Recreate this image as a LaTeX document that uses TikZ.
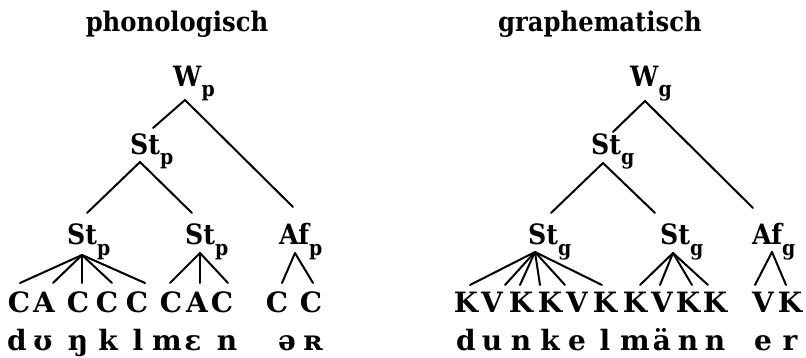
\documentclass[tikz,border=0pt]{standalone}
\usepackage{fontspec}
\setmainfont{DejaVu Serif Condensed}[BoldFont={DejaVu Serif Condensed Bold}]
\newfontfamily\widefont{DejaVu Serif}[BoldFont={DejaVu Serif Bold}]
\newcommand\lsub[1]{\raisebox{-10pt}{\fontsize{21}{21}\selectfont #1}}
\tikzset{
  lbl/.style={anchor=base west, inner sep=0pt, font=\fontsize{28}{28}\selectfont\bfseries},
  ltr/.style={anchor=base, inner sep=0pt, font=\fontsize{28}{28}\selectfont\widefont\bfseries},
  ttl/.style={anchor=base, inner sep=0pt, font=\fontsize{27}{27}\selectfont\bfseries},
  edge/.style={line width=2pt, line cap=round}
}
\begin{document}
\begin{tikzpicture}[x=1pt,y=-1pt]
\useasboundingbox (0,0) rectangle (806,358);
% titles
\node[ttl] (t1) at (177,32) {phonologisch};
\node[ttl] (t2) at (600,32) {graphematisch};
% left tree labels
\node[lbl] (Wp) at (173,87) {W\lsub{p}};
\node[lbl] (Stp) at (130,155) {St\lsub{p}};
\node[lbl] (Stp1) at (67,245) {St\lsub{p}};
\node[lbl] (Stp2) at (185,245) {St\lsub{p}};
\node[lbl] (Afp) at (279,245) {Af\lsub{p}};
% right tree labels
\node[lbl] (Wg) at (630,87) {W\lsub{g}};
\node[lbl] (Stg) at (591,155) {St\lsub{g}};
\node[lbl] (Stg1) at (528,245) {St\lsub{g}};
\node[lbl] (Stg2) at (660,245) {St\lsub{g}};
\node[lbl] (Afg) at (752,245) {Af\lsub{g}};
% CV row left
\foreach \n/\x/\t in {1/19/C,2/44/A,3/78/C,4/107/C,5/137/C,6/171/C,7/197/A,8/222/C,9/277/C,10/311/C}
  \node[ltr] (cv\n) at (\x,312) {\t};
\foreach \n/\x/\t in {1/17/d,2/43/ʊ,3/78/ŋ,4/108/k,5/138/l,6/167/m,7/193/ɛ,8/227/n,9/287/ə,10/313/ʀ}
  \node[ltr] (ph\n) at (\x,350) {\t};
% KV row right
\foreach \n/\x/\t in {1/466/K,2/492/V,3/521/K,4/550/K,5/577/V,6/605/K,7/635/K,8/662/V,9/688/K,10/715/K,11/763/V,12/790/K}
  \node[ltr] (kv\n) at (\x,312) {\t};
\foreach \n/\x/\t in {1/466/d,2/492/u,3/521/n,4/550/k,5/577/e,6/605/l,7/635/m,8/662/ä,9/688/n,10/715/n,11/763/e,12/790/r}
  \node[ltr] (gr\n) at (\x,350) {\t};
% connector points
\coordinate (aWp) at (185,100);
\coordinate (eStp) at (153,128);
\coordinate (eAfp) at (293,207);
\coordinate (aStp) at (140,162);
\coordinate (eStp1) at (87,213);
\coordinate (eStp2) at (192,213);
\coordinate (aStp1) at (82,255);
\coordinate (aStp2) at (200,253);
\coordinate (aAfp) at (295,253);
\foreach \n/\x in {1/20,2/53,3/82,4/112,5/145,6/170,7/200,8/228,9/282,10/313}
  \coordinate (ecv\n) at (\x,283);
\coordinate (aWg) at (645,101);
\coordinate (eStg) at (613,132);
\coordinate (eAfg) at (753,208);
\coordinate (aStg) at (603,163);
\coordinate (eStg1) at (551,213);
\coordinate (eStg2) at (655,213);
\coordinate (aStg1) at (535,252);
\coordinate (aStg2) at (673,253);
\coordinate (aAfg) at (772,252);
\foreach \n/\x in {1/470,2/505,3/520,4/540,5/565,6/602,7/640,8/660,9/692,10/708,11/755,12/786}
  \coordinate (ekv\n) at (\x,285);
% left tree edges
\draw[edge] (eStp) -- (aWp) -- (eAfp);
\draw[edge] (eStp1) -- (aStp) -- (eStp2);
\foreach \n in {1,...,5} \draw[edge] (aStp1) -- (ecv\n);
\foreach \n in {6,7,8} \draw[edge] (aStp2) -- (ecv\n);
\foreach \n in {9,10} \draw[edge] (aAfp) -- (ecv\n);
% right tree edges
\draw[edge] (eStg) -- (aWg) -- (eAfg);
\draw[edge] (eStg1) -- (aStg) -- (eStg2);
\foreach \n in {1,...,6} \draw[edge] (aStg1) -- (ekv\n);
\foreach \n in {7,...,10} \draw[edge] (aStg2) -- (ekv\n);
\foreach \n in {11,12} \draw[edge] (aAfg) -- (ekv\n);
\end{tikzpicture}
\end{document}
